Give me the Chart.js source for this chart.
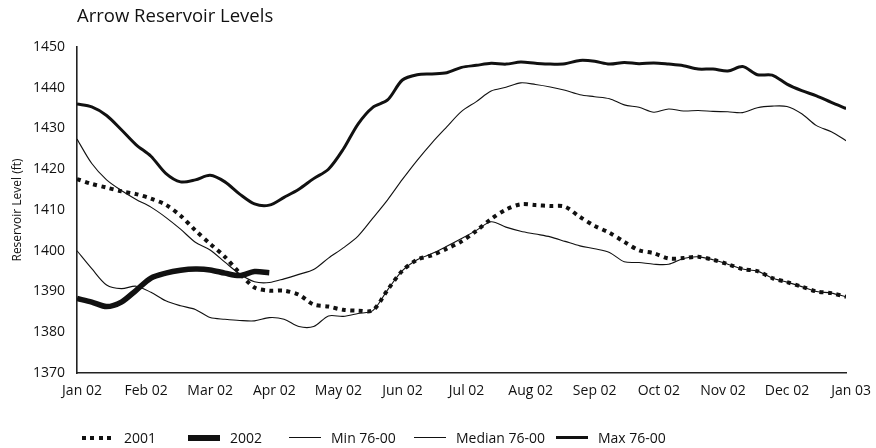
<!DOCTYPE html>
<html>
<head>
<meta charset="utf-8">
<title>Arrow Reservoir Levels</title>
<script src="https://cdn.jsdelivr.net/npm/chart.js@4.4.0/dist/chart.umd.min.js"></script>
<style>
  html, body { margin: 0; padding: 0; background: #fff; }
  #wrap { position: relative; width: 876px; height: 448px; }
  #legend { position: absolute; left: 0; top: 428px; width: 876px; height: 19px;
    font: 14px "Open Sans", sans-serif; color: #111; }
  .item { position: absolute; top: 0; height: 19px; display: flex; align-items: center; white-space: nowrap; }
  .swatch { display: inline-block; width: 32px; margin-right: 10px; background: #111; }
</style>
</head>
<body>
<div id="wrap">
  <canvas id="levelChart" width="876" height="448"></canvas>
  <div id="legend"></div>
</div>
<script>
// x axis: Jan 02 .. Jan 03, one tick per month
const monthLabels = ["Jan 02", "Feb 02", "Mar 02", "Apr 02", "May 02", "Jun 02",
  "Jul 02", "Aug 02", "Sep 02", "Oct 02", "Nov 02", "Dec 02", "Jan 03"];

// weekly readings, 53 weeks (x in months)
const weeks = Array.from({ length: 53 }, (_, i) => i * 12 / 52);

const level2001 = [1417.6, 1416.4, 1415.5, 1414.6, 1413.9, 1412.8, 1411.3, 1408.6, 1405.0, 1401.7,
  1398.5, 1394.5, 1391.0, 1390.2, 1390.2, 1389.2, 1386.8, 1386.3, 1385.5, 1385.3,
  1385.4, 1390.4, 1395.1, 1397.8, 1398.9, 1400.5, 1402.3, 1404.9, 1407.8, 1410.1,
  1411.4, 1411.2, 1411.0, 1410.8, 1408.3, 1406.1, 1404.4, 1402.2, 1400.1, 1399.4,
  1398.1, 1398.2, 1398.5, 1397.8, 1396.7, 1395.5, 1395.0, 1393.3, 1392.3, 1391.2,
  1390.0, 1389.6, 1388.7];

const level2002 = [1388.3, 1387.4, 1386.3, 1387.4, 1390.3, 1393.3, 1394.5, 1395.2, 1395.5, 1395.3,
  1394.5, 1393.9, 1394.9, 1394.6];

const min7600 = [1400.0, 1395.6, 1391.6, 1390.7, 1391.3, 1389.8, 1387.7, 1386.5, 1385.6, 1383.6,
  1383.2, 1382.9, 1382.8, 1383.6, 1383.2, 1381.4, 1381.4, 1384.0, 1383.9, 1384.6,
  1385.3, 1390.4, 1395.1, 1397.8, 1399.3, 1401.1, 1403.0, 1405.0, 1407.1, 1405.8,
  1404.8, 1404.1, 1403.4, 1402.3, 1401.2, 1400.5, 1399.6, 1397.3, 1397.1, 1396.7,
  1396.7, 1398.1, 1398.5, 1397.8, 1396.7, 1395.5, 1395.0, 1393.3, 1392.3, 1391.2,
  1390.0, 1389.6, 1388.7];

const median7600 = [1427.4, 1421.4, 1417.4, 1414.8, 1412.6, 1410.7, 1408.2, 1405.3, 1402.1, 1400.2,
  1397.2, 1394.3, 1392.4, 1392.2, 1393.1, 1394.2, 1395.4, 1398.2, 1400.7, 1403.6,
  1408.0, 1412.5, 1417.5, 1422.2, 1426.5, 1430.4, 1434.2, 1436.6, 1439.2, 1440.1,
  1441.2, 1440.8, 1440.2, 1439.4, 1438.3, 1437.8, 1437.3, 1435.8, 1435.2, 1434.0,
  1434.8, 1434.3, 1434.4, 1434.2, 1434.1, 1433.9, 1435.1, 1435.5, 1435.4, 1433.6,
  1430.7, 1429.2, 1427.0];

const max7600 = [1436.0, 1435.3, 1433.2, 1429.7, 1426.0, 1423.2, 1419.0, 1416.9, 1417.4, 1418.5,
  1416.9, 1413.9, 1411.5, 1411.2, 1413.1, 1415.1, 1417.7, 1420.0, 1424.9, 1431.1,
  1435.2, 1437.0, 1441.9, 1443.2, 1443.4, 1443.7, 1445.0, 1445.5, 1446.0, 1445.8,
  1446.3, 1446.0, 1445.8, 1445.9, 1446.7, 1446.5, 1445.8, 1446.2, 1445.9, 1446.1,
  1445.8, 1445.4, 1444.6, 1444.6, 1444.1, 1445.2, 1443.2, 1443.1, 1440.9, 1439.3,
  1438.0, 1436.4, 1434.9];

const INK = "#111";
const FONT = "'Open Sans', sans-serif";

function points(values) {
  return values.map((y, i) => ({ x: weeks[i], y: y }));
}

const datasets = [
  { label: "2001", data: points(level2001), borderWidth: 4, borderDash: [4, 4.5], borderCapStyle: "butt" },
  { label: "2002", data: points(level2002), borderWidth: 5.5 },
  { label: "Min 76-00", data: points(min7600), borderWidth: 1.1 },
  { label: "Median 76-00", data: points(median7600), borderWidth: 1.1 },
  { label: "Max 76-00", data: points(max7600), borderWidth: 3 }
];
datasets.forEach((d) => {
  d.borderColor = INK;
  d.pointRadius = 0;
  d.tension = 0.3;
  d.fill = false;
});

const ctx = document.getElementById("levelChart").getContext("2d");
new Chart(ctx, {
  type: "line",
  data: { datasets: datasets },
  options: {
    responsive: false,
    animation: false,
    events: [],
    layout: { padding: { right: 28 } },
    plugins: {
      legend: { display: false },
      tooltip: { enabled: false },
      title: {
        display: true,
        text: "Arrow Reservoir Levels",
        align: "start",
        fullSize: false,
        color: INK,
        font: { family: FONT, size: 18.5, weight: "normal" },
        padding: { top: 6, bottom: 18.8 }
      }
    },
    scales: {
      x: {
        type: "linear",
        min: 0,
        max: 12,
        grid: { display: false, drawTicks: false },
        border: { display: true, color: "#222", width: 1.6 },
        ticks: {
          stepSize: 1,
          autoSkip: false,
          maxRotation: 0,
          padding: 10,
          labelOffset: 5,
          color: INK,
          font: { family: FONT, size: 14 },
          callback: (v) => monthLabels[v]
        },
        afterFit: (scale) => { scale.height = 75; }
      },
      y: {
        min: 1370,
        max: 1450,
        grid: { display: false, drawTicks: false },
        border: { display: true, color: "#222", width: 1.6 },
        ticks: {
          stepSize: 10,
          padding: 12,
          color: INK,
          font: { family: FONT, size: 14 },
          callback: (v) => String(v)
        },
        title: {
          display: true,
          text: "Reservoir Level (ft)",
          color: INK,
          font: { family: FONT, size: 12 },
          padding: { top: 10, bottom: 0 }
        },
        afterFit: (scale) => { scale.width = 77; }
      }
    }
  }
});

// legend under the plot, built from the datasets
const legendLeft = [82, 188, 289, 414, 556];
const legendEl = document.getElementById("legend");
datasets.forEach((d, i) => {
  const item = document.createElement("div");
  item.className = "item";
  item.style.left = legendLeft[i] + "px";
  const swatch = document.createElement("span");
  swatch.className = "swatch";
  swatch.style.height = Math.round(d.borderWidth) + "px";
  if (d.borderDash) {
    swatch.style.background = "repeating-linear-gradient(to right, " + INK + " 0 4px, transparent 4px 8.5px)";
  }
  const text = document.createElement("span");
  text.textContent = d.label;
  item.appendChild(swatch);
  item.appendChild(text);
  legendEl.appendChild(item);
});
</script>
</body>
</html>
